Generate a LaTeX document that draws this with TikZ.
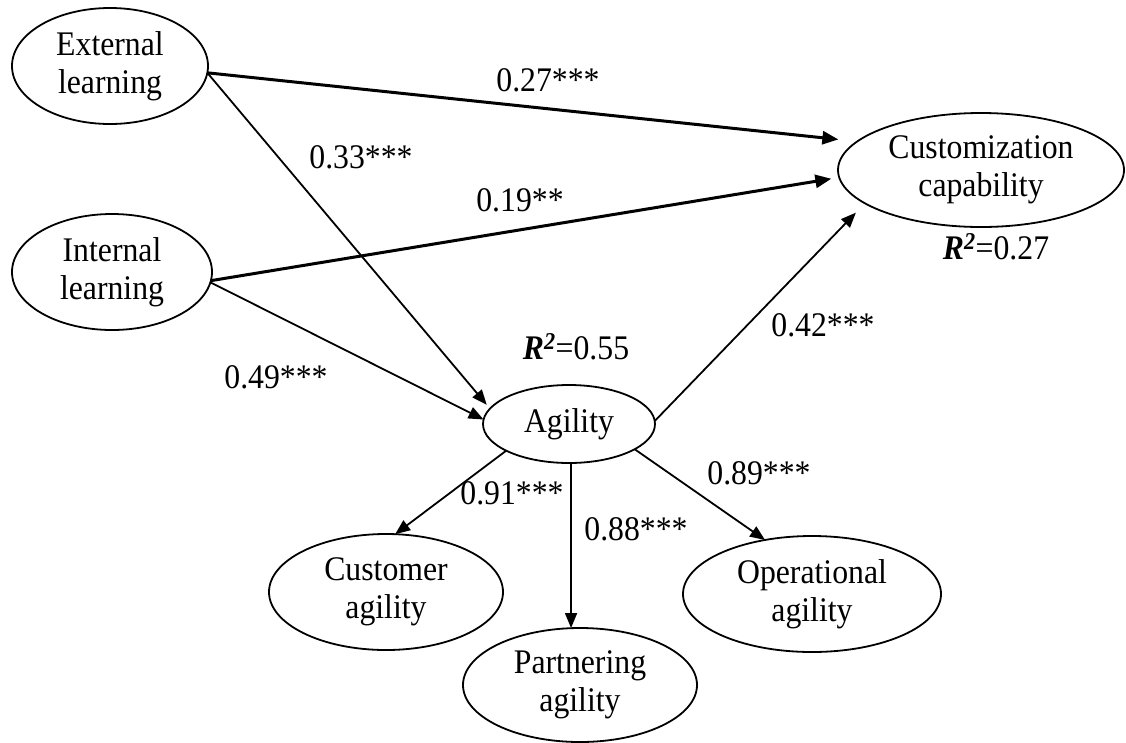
\documentclass[tikz,border=0pt]{standalone}
\usepackage{fontspec}
\setmainfont[FakeStretch=0.92]{Liberation Serif}
\usetikzlibrary{shapes.geometric,arrows.meta}
\begin{document}
\begin{tikzpicture}[x=1pt,y=-1pt,
  every node/.style={font=\fontsize{34.5}{38}\selectfont},
  latent/.style={draw, ellipse, line width=1.8pt, inner sep=0pt, outer sep=0pt, align=center},
  link/.style={line width=1.8pt, -{Triangle[length=15pt,width=12pt]}},
  thicklink/.style={line width=3pt, -{Triangle[length=16pt,width=13pt]}},
  coef/.style={anchor=base, inner sep=0pt}]
\useasboundingbox (0,0) rectangle (1126,742);

\node[latent, minimum width=196pt, minimum height=116pt] (ext) at (110,66) {External\\learning};
\node[latent, minimum width=200pt, minimum height=116pt] (int) at (112,272) {Internal\\learning};
\node[latent, minimum width=286pt, minimum height=114pt] (cc) at (981,170) {Customization\\capability};
\node[latent, minimum width=172pt, minimum height=78pt] (agi) at (569,424) {Agility};
\node[latent, minimum width=234pt, minimum height=116pt] (cus) at (386,592) {Customer\\agility};
\node[latent, minimum width=234pt, minimum height=114pt] (par) at (580,685) {Partnering\\agility};
\node[latent, minimum width=258pt, minimum height=116pt] (ope) at (812,594) {Operational\\agility};

\draw[thicklink, shorten >=19pt] (ext.-4) -- (cc.167);
\draw[thicklink, shorten >=8pt] (int.-5) -- (cc.183);
\draw[link, shorten >=13pt] (agi.2) -- (cc.196);
\draw[link, shorten >=5pt] (ext.-4) -- (agi.169);
\draw[link] (int.-6) -- (agi.177);
\draw[link] (agi.203) -- (cus.81);
\draw[link] (agi.-87) -- (agi.-87 |- par.north);
\draw[link] (agi.-21) -- (ope.131);

\node[coef] (l27) at (548,91) {0.27***};
\node[coef] (l33) at (361,168) {0.33***};
\node[coef] (l19) at (520,211) {0.19**};
\node[coef] (l49) at (276,388) {0.49***};
\node[coef] (r55) at (576,359) {\textbf{\textit{R}}\textsuperscript{\textbf{\textit{2}}}=0.55};
\node[coef] (l42) at (823,336) {0.42***};
\node[coef] (r27) at (996,259) {\textbf{\textit{R}}\textsuperscript{\textbf{\textit{2}}}=0.27};
\node[coef] (l91) at (512,504) {0.91***};
\node[coef] (l88) at (636,540) {0.88***};
\node[coef] (l89) at (759,484) {0.89***};
\end{tikzpicture}
\end{document}
